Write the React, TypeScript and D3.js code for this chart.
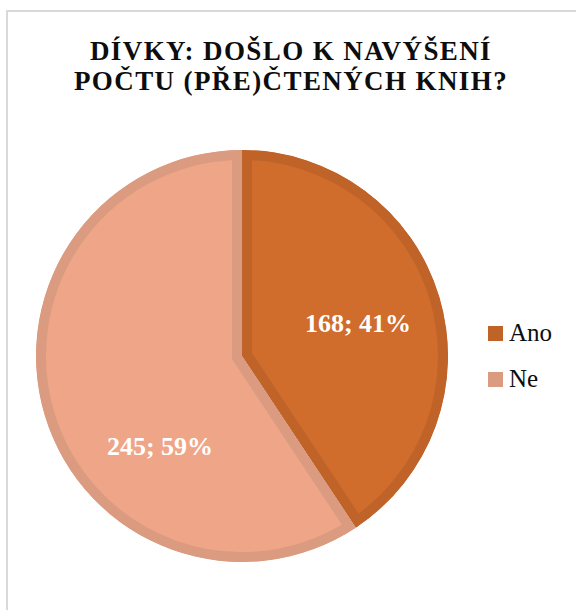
import React from "react";
import * as d3 from "d3";

const categories = ["Ano", "Ne"];
const values = [168, 245];
const percents = ["41%", "59%"];
const fills = ["#D06C2C", "#EFA587"];
const strokes = ["#BF6329", "#DA9B80"];
const titleLines = ["DÍVKY: DOŠLO K NAVÝŠENÍ", "POČTU (PŘE)ČTENÝCH KNIH?"];

const W = 576;
const H = 610;

export default function App() {
  const cx = 242;
  const cy = 356;
  const r = 206;
  const pie = d3.pie<number>().sort(null).value((d) => d);
  const arcs = pie(values);
  const arc = d3.arc<d3.PieArcDatum<number>>().innerRadius(0).outerRadius(r);
  const labelPos = [
    [358, 332],
    [160, 455],
  ];
  return (
    <svg
      width={W}
      height={H}
      style={{ position: "absolute", left: 0, top: 0, display: "block" }}
      fontFamily="'Liberation Serif', 'Times New Roman', serif"
    >
      <rect x={0} y={0} width={W} height={H} fill="#fff" />
      <rect x={7} y={11} width={W + 20} height={H + 20} fill="none" stroke="#D9D9D9" strokeWidth={2} />
      {titleLines.map((t, i) => (
        <text
          key={i}
          x={291}
          y={60 + i * 30}
          textAnchor="middle"
          fontSize={27}
          fontWeight="bold"
          letterSpacing={1.4}
          fill="#0D0D0D"
        >
          {t}
        </text>
      ))}
      <g transform={`translate(${cx},${cy})`}>
        <defs>
          {arcs.map((a, i) => (
            <clipPath id={`clip${i}`} key={i}>
              <path d={arc(a) || ""} />
            </clipPath>
          ))}
        </defs>
        {arcs.map((a, i) => (
          <path
            key={i}
            d={arc(a) || ""}
            fill={fills[i]}
            stroke={strokes[i]}
            strokeWidth={20}
            clipPath={`url(#clip${i})`}
          />
        ))}
      </g>
      {arcs.map((a, i) => (
        <text
          key={i}
          x={labelPos[i][0]}
          y={labelPos[i][1]}
          textAnchor="middle"
          fontSize={26}
          fontWeight="bold"
          fill="#fff"
        >
          {`${values[i]}; ${percents[i]}`}
        </text>
      ))}
      {categories.map((c, i) => (
        <g key={c}>
          <rect x={488} y={326 + i * 46} width={15} height={15} fill={strokes[i]} />
          <text x={509} y={341 + i * 46} fontSize={25} fill="#0D0D0D">
            {c}
          </text>
        </g>
      ))}
    </svg>
  );
}
